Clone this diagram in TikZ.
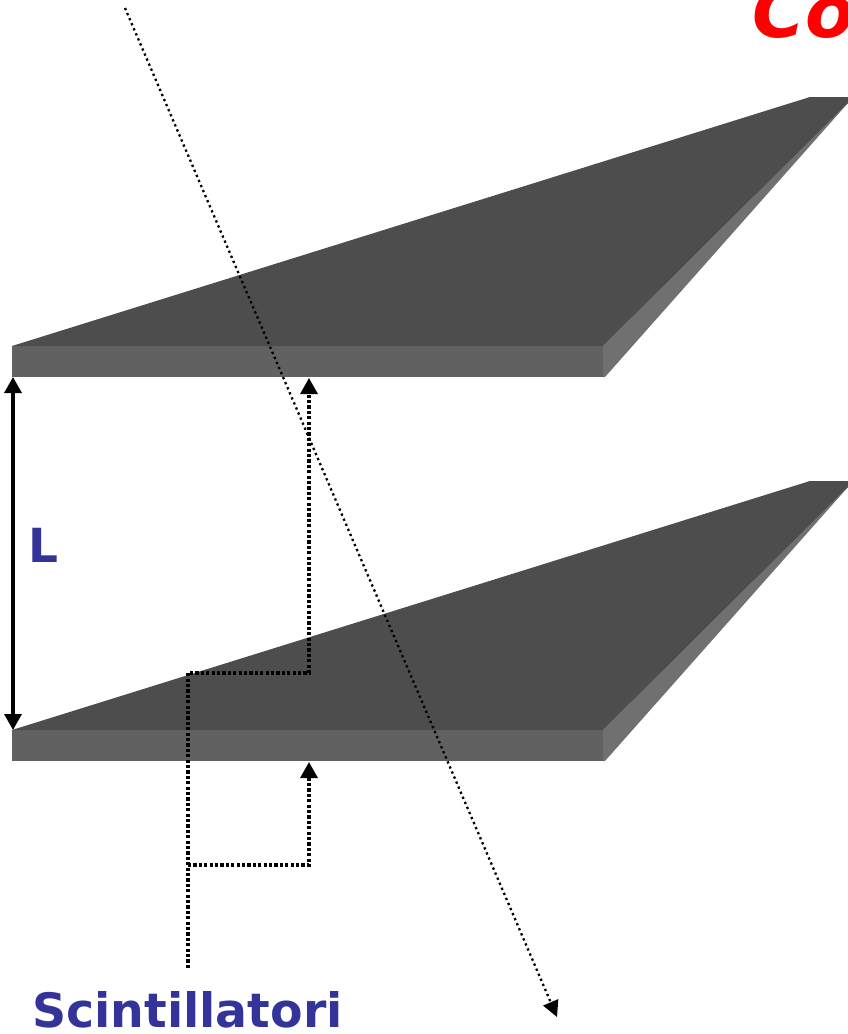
\documentclass[tikz,border=0pt]{standalone}
\usepackage{fontspec}
\setmainfont{DejaVu Sans}
\usetikzlibrary{arrows.meta}
\definecolor{topc}{HTML}{4D4D4D}
\definecolor{frontc}{HTML}{616161}
\definecolor{sidec}{HTML}{707070}
\definecolor{labelc}{HTML}{333399}
\tikzset{
  topface/.style={fill=topc},
  frontface/.style={fill=frontc},
  sideface/.style={fill=sidec},
  thickdots/.style={line width=3.2pt,dash pattern=on 3.2pt off 2.2pt,-{Triangle[length=16pt,width=17pt]}},
  thindots/.style={line width=2.3pt,dash pattern=on 2.3pt off 3.2pt,-{Triangle[length=16pt,width=16pt]}},
  solidarrow/.style={line width=3.2pt,{Triangle[length=16pt,width=17pt]}-{Triangle[length=16pt,width=17pt]}},
  lab/.style={text=labelc,inner sep=0pt,anchor=base west},
}
\begin{document}
\begin{tikzpicture}[x=1pt,y=-1pt]
\useasboundingbox (0,0) rectangle (848,1034);
\clip (0,0) rectangle (848,1034);
\fill[white] (0,0) rectangle (848,1034);
% plates
\foreach \d in {0,384}{
  \fill[sideface] (603,346+\d) -- (848,103+\d) -- (605,377+\d) -- (603,377+\d) -- cycle;
  \fill[frontface] (12,346+\d) -- (603,346+\d) -- (603,377+\d) -- (12,377+\d) -- cycle;
  \fill[topface] (12,346+\d) -- (810,97+\d) -- (848,97+\d) -- (848,103+\d) -- (603,346+\d) -- cycle;
}
% texts
\node[text=red,font=\bfseries\itshape\fontsize{72}{72}\selectfont,inner sep=0pt,anchor=base west] (title) at (752,37) {Co};
\node[lab,font=\bfseries\fontsize{47}{47}\selectfont] (labL) at (28,562) {L};
\node[lab,font=\bfseries\fontsize{47.4}{47}\selectfont] (labS) at (32,1027) {Scintillatori};
% anchors
\coordinate (raystart) at (125,8);
\coordinate (rayend) at (557,1017);
\coordinate (upperA) at (13,377);
\coordinate (upperB) at (13,730);
\coordinate (stem) at (188,968);
\coordinate (knee1) at (188,673);
\coordinate (knee2) at (309,673);
\coordinate (tip1) at (309,378);
\coordinate (branch) at (188,865);
\coordinate (knee3) at (309,865);
\coordinate (tip2) at (309,762);
% connectors
\draw[solidarrow] (upperA) -- (upperB);
\draw[thindots] (raystart) -- (rayend);
\draw[thickdots] (stem) -- (knee1) -- (knee2) -- (tip1);
\draw[thickdots] (branch) -- (knee3) -- (tip2);
\end{tikzpicture}
\end{document}
